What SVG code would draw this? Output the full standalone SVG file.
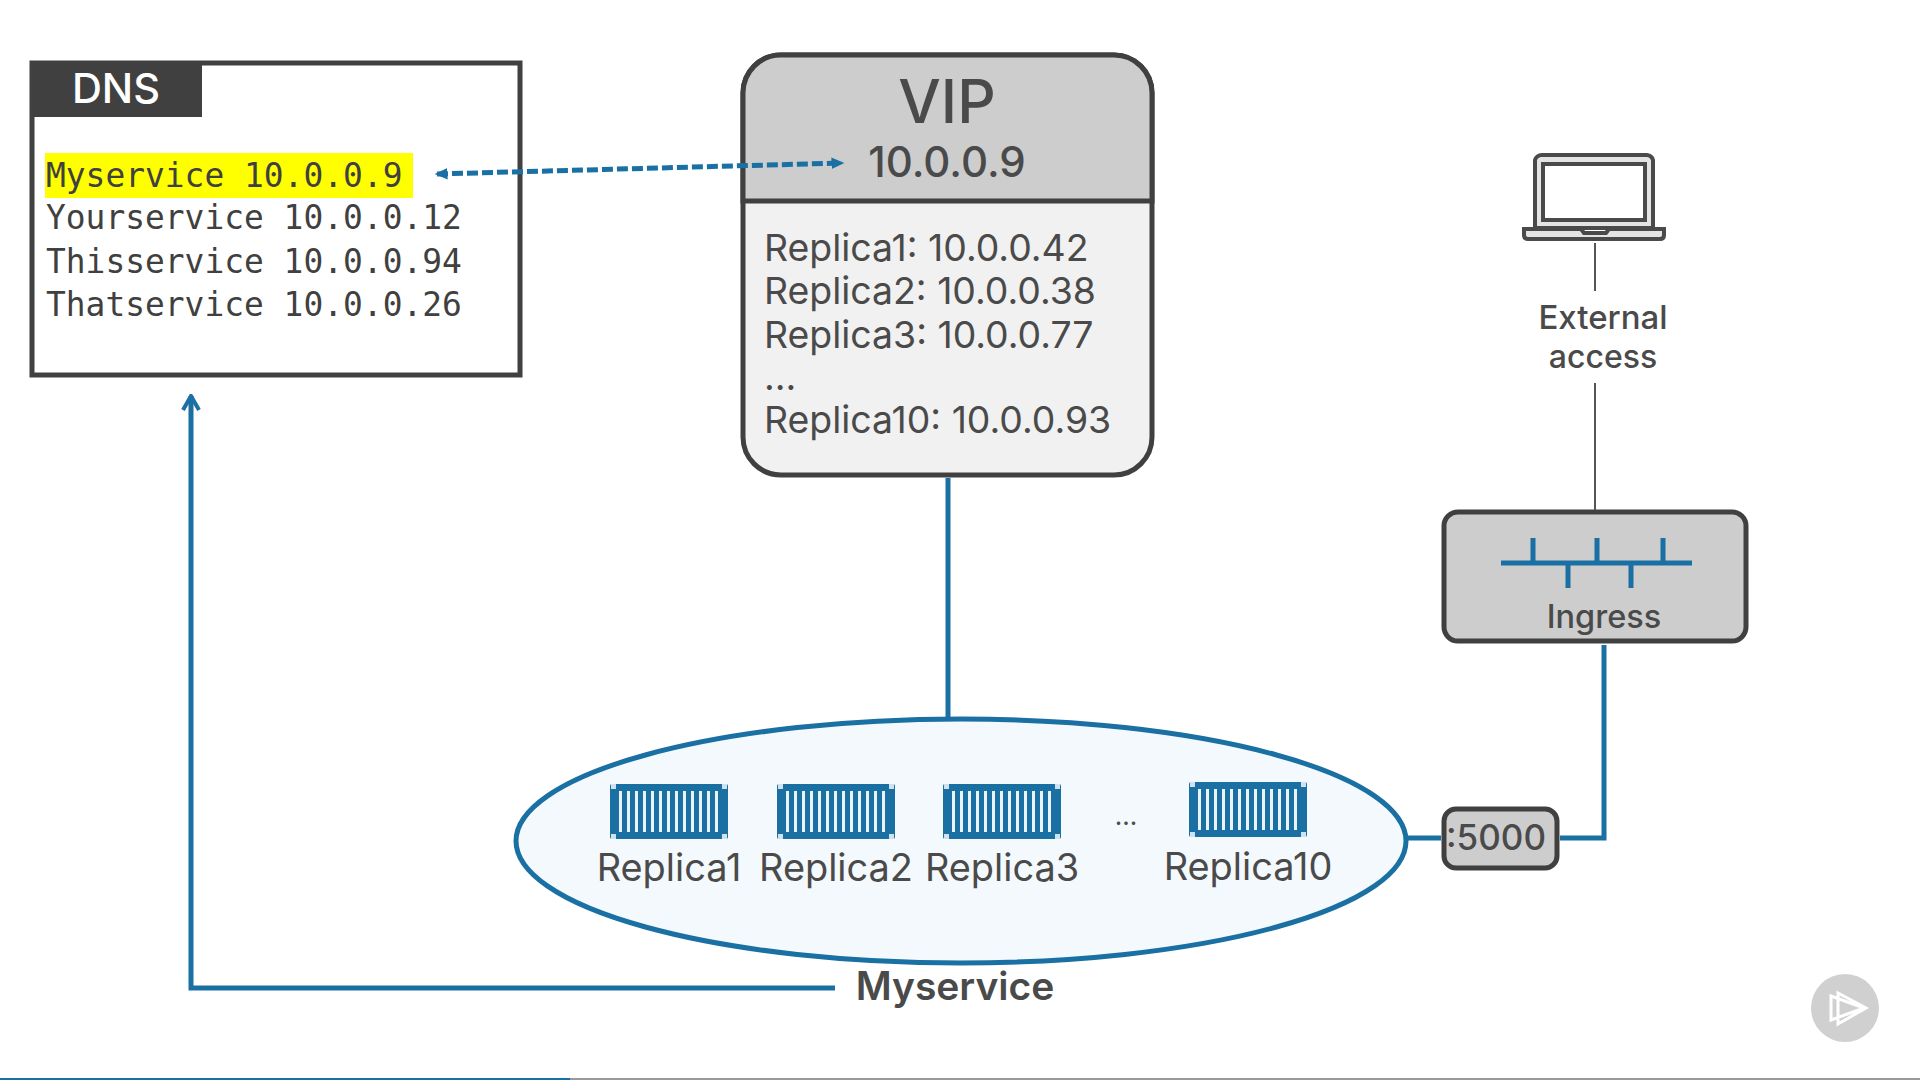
<svg xmlns="http://www.w3.org/2000/svg" xmlns:xlink="http://www.w3.org/1999/xlink" width="1920" height="1080" viewBox="0 0 1920 1080">
<style>
text{font-family:"Inter","Noto Sans","Liberation Sans",sans-serif;fill:#4a4a4a}
.mono{font-family:"DejaVu Sans Mono","Liberation Mono",monospace;font-size:32.9px;fill:#404040}
.rep{font-size:37.400px}
.lbl{font-size:37.900px;text-anchor:middle}
.box{stroke:#404040;stroke-width:5}
.blue{fill:none;stroke:#1a6fa3;stroke-width:5}
.thin{fill:none;stroke:#555;stroke-width:2}
</style>
<defs>
<marker id="headDash" viewBox="0 0 12 12" refX="9" refY="6" markerWidth="14" markerHeight="14" markerUnits="userSpaceOnUse" orient="auto-start-reverse"><path d="M0 1L11 6L0 11Z" fill="#1a6fa3"/></marker>
<marker id="headOpen" viewBox="0 0 20 20" refX="18" refY="10" markerWidth="20" markerHeight="20" markerUnits="userSpaceOnUse" orient="auto"><path d="M4 2L18 10L4 18" fill="none" stroke="#1a6fa3" stroke-width="4"/></marker>
<g id="container">
<rect x="0" y="1" width="118" height="55" rx="2" fill="#1a6fa3"/>
<path d="M10.500 8V49M18.500 8V49M26.500 8V49M34.500 8V49M42.500 8V49M50.500 8V49M58.500 8V49M66.500 8V49M74.500 8V49M82.500 8V49M90.500 8V49M98.500 8V49M106.500 8V49" stroke="#eaf3f9" stroke-width="3" fill="none"/>
<path d="M1 1H6V6H1ZM112 1H117V6H112ZM1 51H6V56H1ZM112 51H117V56H112Z" fill="#cfe2ee"/>
</g>
</defs>
<rect width="1920" height="1080" fill="#fff"/>
<g id="dns">
<rect class="box" x="32" y="63" width="488" height="312" fill="#fff"/>
<rect x="30" y="61" width="172" height="56" fill="#404040"/>
<text x="116" y="103" text-anchor="middle" style="font-size:41.500px;fill:#fff;font-weight:500">DNS</text>
<rect x="45" y="153" width="368" height="45" fill="#ffff00"/>
<text class="mono" x="46" y="187">Myservice 10.0.0.9</text>
<text class="mono" x="46" y="229">Yourservice 10.0.0.12</text>
<text class="mono" x="46" y="273">Thisservice 10.0.0.94</text>
<text class="mono" x="46" y="316">Thatservice 10.0.0.26</text>
</g>
<g id="vip">
<rect x="743" y="55" width="409" height="420" rx="38" fill="#f1f1f1" class="box"/>
<path d="M743 201V93A38 38 0 0 1 781 55H1114A38 38 0 0 1 1152 93V201Z" fill="#cdcdcd" class="box"/>
<text x="947" y="123" text-anchor="middle" style="font-size:60px;font-weight:500">VIP</text>
<text x="947" y="177" text-anchor="middle" style="font-size:42px;font-weight:500">10.0.0.9</text>
<text class="rep" x="764" y="261">Replica1: 10.0.0.42</text>
<text class="rep" x="764" y="304">Replica2: 10.0.0.38</text>
<text class="rep" x="764" y="348">Replica3: 10.0.0.77</text>
<text class="rep" x="764" y="390">...</text>
<text class="rep" x="764" y="433">Replica10: 10.0.0.93</text>
</g>
<g id="laptop">
<path d="M1535 228V160A7 7 0 0 1 1542 155H1647A7 7 0 0 1 1653 160V228Z" fill="#e4e4e4" stroke="#4a4a4a" stroke-width="4"/>
<rect x="1543" y="164" width="102" height="56" fill="#fff" stroke="#4a4a4a" stroke-width="4"/>
<path d="M1524 229H1581L1584 233H1606L1609 229H1664V235Q1664 239 1660 239H1528Q1524 239 1524 235Z" fill="#e4e4e4" stroke="#4a4a4a" stroke-width="4"/>
<text x="1603" y="329" text-anchor="middle" style="font-size:33px;font-weight:500">External</text>
<text x="1603" y="368" text-anchor="middle" style="font-size:32px;font-weight:500">access</text>
</g>
<g id="ingress">
<rect class="box" x="1444" y="512" width="302" height="129" rx="14" fill="#cdcdcd"/>
<path class="blue" d="M1501 563H1692M1533 538V563M1597 538V563M1663 538V563M1568 563V588M1631 563V588"/>
<text x="1604" y="628" text-anchor="middle" style="font-size:32.500px;font-weight:500">Ingress</text>
</g>
<g id="port">
<rect class="box" x="1444" y="809" width="113" height="59" rx="12" fill="#cdcdcd"/>
<text x="1496" y="850" text-anchor="middle" style="font-size:35px;font-weight:500">:5000</text>
</g>
<g id="myservice">
<ellipse cx="961" cy="841" rx="445" ry="122" fill="#f3f9fd" stroke="#1a6fa3" stroke-width="5"/>
<use xlink:href="#container" href="#container" x="610" y="783"/>
<use xlink:href="#container" href="#container" x="777" y="783"/>
<use xlink:href="#container" href="#container" x="943" y="783"/>
<use xlink:href="#container" href="#container" x="1189" y="781"/>
<text class="lbl" x="669" y="881">Replica1</text>
<text class="lbl" x="836" y="881">Replica2</text>
<text class="lbl" x="1002" y="881">Replica3</text>
<text class="lbl" x="1126" y="825" style="font-size:26px">...</text>
<text class="lbl" x="1248" y="880">Replica10</text>
<text x="955" y="1000" text-anchor="middle" style="font-size:39px;font-weight:600">Myservice</text>
</g>
<g id="player">
<circle cx="1845" cy="1008" r="34" fill="#d0d0d0"/>
<path d="M1831 996L1864 1008L1831 1020ZM1838 993L1866 1008L1838 1024Z" fill="none" stroke="#fff" stroke-width="3"/>
<rect x="0" y="1078" width="1920" height="2" fill="#999"/>
<rect x="0" y="1078" width="570" height="2" fill="#1a6fa3"/>
</g>
<g id="connectors">
<path class="blue" d="M948 478V718"/>
<path class="blue" d="M835 988H191V396" marker-end="url(#headOpen)"/>
<path class="blue" d="M437 174L842 163" stroke-dasharray="11 4" marker-start="url(#headDash)" marker-end="url(#headDash)"/>
<path class="blue" d="M1408 838H1441"/>
<path class="blue" d="M1560 838H1604V645"/>
<path class="thin" d="M1595 243V291M1595 383V510"/>
</g>
</svg>
